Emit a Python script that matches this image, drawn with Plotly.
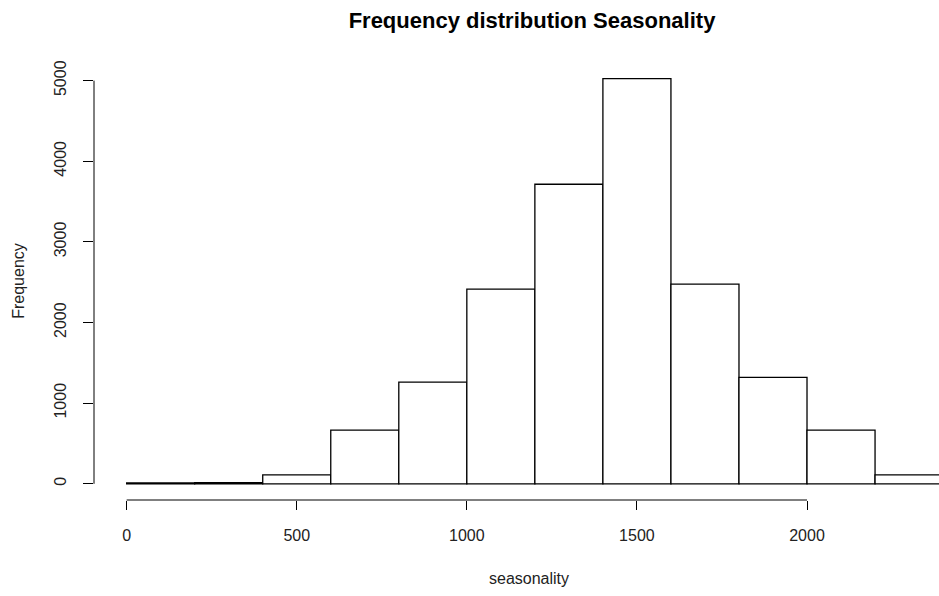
import plotly.graph_objects as go

# Histogram data (bin edges of width 200, counts)
bin_starts = [0, 200, 400, 600, 800, 1000, 1200, 1400, 1600, 1800, 2000, 2200]
bin_width = 200
counts = [10, 14, 110, 665, 1262, 2415, 3715, 5025, 2477, 1321, 665, 110]

x_ticks = [0, 500, 1000, 1500, 2000]
y_ticks = [0, 1000, 2000, 3000, 4000, 5000]

title = "Frequency distribution Seasonality"
x_label = "seasonality"
y_label = "Frequency"

centers = [s + bin_width / 2 for s in bin_starts]

FONT = "Liberation Sans, Arial, sans-serif"
TXT = "#222"

fig = go.Figure()
fig.add_trace(go.Bar(
    x=centers,
    y=counts,
    width=[bin_width] * len(centers),
    marker=dict(color="white", line=dict(color="black", width=1.3)),
    hoverinfo="x+y",
))

fig.update_layout(
    width=939,
    height=596,
    margin=dict(l=94, r=0, t=62, b=96, autoexpand=False),
    paper_bgcolor="white",
    plot_bgcolor="white",
    showlegend=False,
    title=dict(
        text="<b>" + title + "</b>",
        x=532 / 939, xanchor="center", xref="container",
        y=1 - 20 / 596, yanchor="middle", yref="container",
        font=dict(family=FONT, size=22, color="black"),
    ),
    font=dict(family=FONT, size=16, color=TXT),
    xaxis=dict(
        range=[-96, 2388],
        tickvals=x_ticks,
        ticktext=[str(v) for v in x_ticks],
        ticks="outside", ticklen=9, tickwidth=1, tickcolor="black",
        ticklabelstandoff=12,
        showgrid=False, zeroline=False, showline=False,
        automargin=False,
        tickfont=dict(family=FONT, size=16, color=TXT),
    ),
    yaxis=dict(
        range=[-201, 5231],
        tickvals=y_ticks,
        ticktext=[str(v) for v in y_ticks],
        tickangle=-90,
        ticks="outside", ticklen=10, tickwidth=1, tickcolor="black",
        ticklabelstandoff=11,
        showgrid=False, zeroline=False, showline=False,
        automargin=False,
        tickfont=dict(family=FONT, size=16, color=TXT),
        title=dict(text=y_label, standoff=22, font=dict(family=FONT, size=16, color=TXT)),
    ),
    annotations=[
        dict(text=x_label, xref="paper", yref="paper",
             x=(529 - 94) / 845, y=-(578 - 500) / 438,
             xanchor="center", yanchor="middle", showarrow=False,
             font=dict(family=FONT, size=16, color=TXT)),
    ],
    shapes=[
        dict(type="line", xref="x", yref="paper",
             x0=x_ticks[0], x1=x_ticks[-1], y0=0, y1=0,
             line=dict(color="black", width=1)),
        dict(type="line", xref="paper", yref="y",
             x0=0, x1=0, y0=y_ticks[0], y1=y_ticks[-1],
             line=dict(color="black", width=1)),
    ],
)

fig.write_html("out.html", config={"displayModeBar": False},
               post_script="document.body.style.margin='0';")
